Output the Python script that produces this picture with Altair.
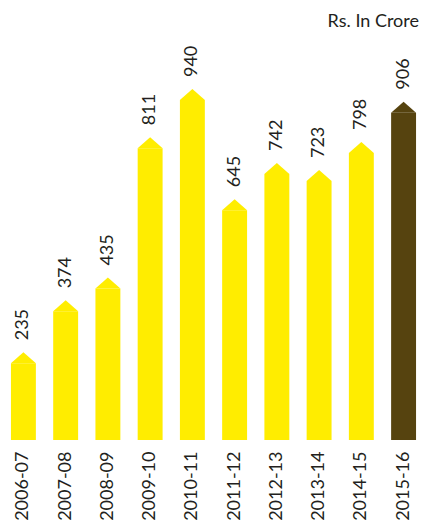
import altair as alt
import pandas as pd

years = ["2006-07", "2007-08", "2008-09", "2009-10", "2010-11",
         "2011-12", "2012-13", "2013-14", "2014-15", "2015-16"]
values = [235, 374, 435, 811, 940, 645, 742, 723, 798, 906]
colors = ["#FFED00"] * 9 + ["#56430F"]

df = pd.DataFrame({"year": years, "value": values, "color": colors})

FONT = "Lato"
TXT = "#231F20"

x = alt.X("year:N", sort=years,
          scale=alt.Scale(paddingInner=0.41, paddingOuter=0.07),
          axis=alt.Axis(title=None, labelAngle=-90, ticks=False, domain=False,
                        labelFontSize=18, labelFont=FONT, labelColor=TXT,
                        labelPadding=11))
y = alt.Y("value:Q", scale=alt.Scale(domain=[0, 1074], nice=False), axis=None)

base = alt.Chart(df).encode(x=x)

bars = base.mark_bar(yOffset=11, y2Offset=0).encode(
    y=y, y2=alt.datum(0), color=alt.Color("color:N", scale=None))

tips = base.mark_point(
    shape="M-1,0.88L0,0L1,0.88Z", size=625, filled=True, opacity=1, strokeWidth=0
).encode(y=y, color=alt.Color("color:N", scale=None))

labels = base.mark_text(angle=270, align="left", baseline="middle", dx=12,
                        fontSize=18, font=FONT, color=TXT).encode(
    y=y, text="value:Q")

chart = alt.layer(bars, tips, labels).properties(
    width=411, height=401,
    padding={"left": 0, "right": 2, "top": 5, "bottom": 0},
    title=alt.TitleParams("Rs. In Crore", anchor="end", fontSize=18, font=FONT,
                          fontWeight="normal", color=TXT, offset=8),
).configure_view(stroke=None)

chart.save("out.html", embed_options={"renderer": "svg", "actions": False})
